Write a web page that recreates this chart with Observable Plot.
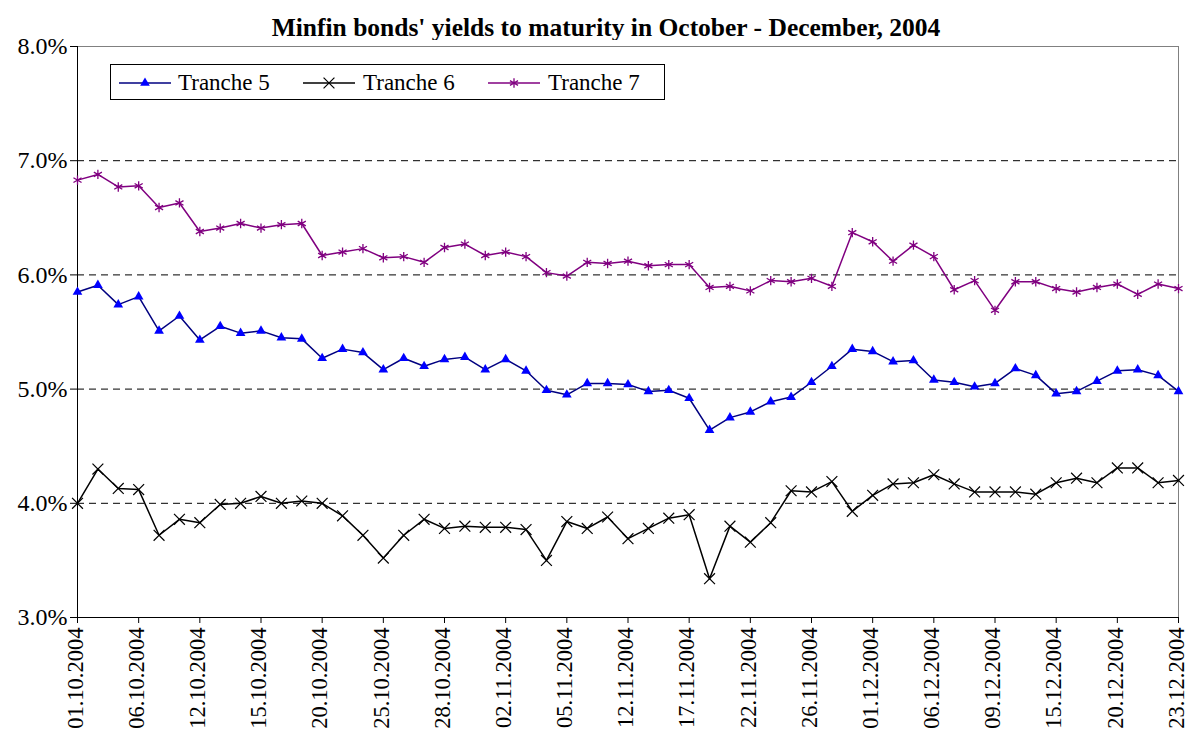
<!DOCTYPE html>
<html>
<head>
<meta charset="utf-8">
<script src="https://cdn.jsdelivr.net/npm/d3@7"></script>
<script src="https://cdn.jsdelivr.net/npm/@observablehq/plot@0.6"></script>
<style>
  body { margin: 0; background: #fff; }
  #wrap { position: relative; width: 1188px; height: 736px; font-family: "Liberation Serif", "Times New Roman", serif; color: #000; }
  #title { position: absolute; left: 24px; top: 13px; width: 1164px; text-align: center; font-weight: bold; font-size: 25.5px; }
  #chart { position: absolute; left: 0; top: 40px; }
  #legend { position: absolute; left: 110px; top: 64px; width: 555px; height: 36px; border: 1px solid #000; background: #fff; box-sizing: border-box; }
</style>
</head>
<body>
<div id="wrap">
  <div id="title">Minfin bonds' yields to maturity in October - December, 2004</div>
  <div id="chart"></div>
  <div id="legend"></div>
</div>
<script>
// Trading dates (category axis), labelled every third day
const dates = [
  "01.10.2004","04.10.2004","05.10.2004","06.10.2004","07.10.2004","11.10.2004","12.10.2004",
  "13.10.2004","14.10.2004","15.10.2004","18.10.2004","19.10.2004","20.10.2004","21.10.2004",
  "22.10.2004","25.10.2004","26.10.2004","27.10.2004","28.10.2004","29.10.2004","01.11.2004",
  "02.11.2004","03.11.2004","04.11.2004","05.11.2004","10.11.2004","11.11.2004","12.11.2004",
  "15.11.2004","16.11.2004","17.11.2004","18.11.2004","19.11.2004","22.11.2004","24.11.2004",
  "25.11.2004","26.11.2004","29.11.2004","30.11.2004","01.12.2004","02.12.2004","03.12.2004",
  "06.12.2004","07.12.2004","08.12.2004","09.12.2004","13.12.2004","14.12.2004","15.12.2004",
  "16.12.2004","17.12.2004","20.12.2004","21.12.2004","22.12.2004","23.12.2004"
];

// Yields to maturity, %
const tranche5 = [
  5.85,5.91,5.74,5.81,5.51,5.64,5.43,5.55,5.49,5.51,
  5.45,5.44,5.27,5.35,5.32,5.17,5.27,5.20,5.26,5.28,
  5.17,5.26,5.16,4.99,4.95,5.05,5.05,5.04,4.98,4.99,
  4.92,4.64,4.75,4.80,4.89,4.93,5.06,5.20,5.35,5.33,
  5.24,5.25,5.08,5.06,5.02,5.05,5.18,5.12,4.96,4.98,
  5.07,5.16,5.17,5.12,4.98
];
const tranche6 = [
  4.00,4.30,4.13,4.12,3.72,3.86,3.83,3.99,4.00,4.06,
  4.00,4.02,4.00,3.89,3.72,3.52,3.72,3.86,3.78,3.80,
  3.79,3.79,3.77,3.50,3.84,3.78,3.88,3.69,3.78,3.87,
  3.90,3.34,3.80,3.66,3.83,4.11,4.10,4.19,3.93,4.07,
  4.17,4.18,4.25,4.17,4.10,4.10,4.10,4.08,4.18,4.22,
  4.18,4.31,4.31,4.18,4.20
];
const tranche7 = [
  6.83,6.88,6.77,6.78,6.59,6.63,6.38,6.41,6.45,6.41,
  6.44,6.45,6.17,6.20,6.23,6.15,6.16,6.11,6.24,6.27,
  6.17,6.20,6.16,6.02,5.99,6.11,6.10,6.12,6.08,6.09,
  6.09,5.89,5.90,5.86,5.95,5.94,5.97,5.90,6.37,6.29,
  6.12,6.26,6.16,5.87,5.95,5.69,5.94,5.94,5.88,5.85,
  5.89,5.92,5.83,5.92,5.88
];

const seriesNames = ["Tranche 5", "Tranche 6", "Tranche 7"];
const yTicks = [3, 4, 5, 6, 7, 8];
const gridValues = [4, 5, 6, 7];

// positions along the category axis are day indices; every third one is labelled
const dayIndex = dates.map((d, i) => i);
const labelIdx = dayIndex.filter(i => i % 3 === 0);
const lastIdx = dates.length - 1;

const styles = {
  "Tranche 5": {line: "#000080", fill: "#0000ff", stroke: "none", symbol: "triangle", r: 3.6, sw: 0},
  "Tranche 6": {line: "#000000", fill: "none", stroke: "#000000", symbol: "times", r: 5, sw: 1.2},
  "Tranche 7": {line: "#800080", fill: "none", stroke: "#800080", symbol: "asterisk", r: 4.4, sw: 1.3}
};

const table = (vals) => dates.map((d, i) => ({i, date: d, y: vals[i]}));
const data = {
  "Tranche 5": table(tranche5),
  "Tranche 6": table(tranche6),
  "Tranche 7": table(tranche7)
};

const seriesMarks = seriesNames.flatMap(name => {
  const s = styles[name];
  return [
    Plot.line(data[name], {x: "i", y: "y", stroke: s.line, strokeWidth: 1.5}),
    Plot.dot(data[name], {x: "i", y: "y", symbol: () => s.symbol, r: s.r,
      fill: s.fill, stroke: s.stroke, strokeWidth: s.sw})
  ];
});

const font = '"Liberation Serif", "Times New Roman", serif';

const chart = Plot.plot({
  width: 1188,
  height: 696,
  marginTop: 6,
  marginBottom: 119,
  marginLeft: 77,
  marginRight: 10,
  style: {fontFamily: font, fontSize: "23px", color: "#000", background: "#fff", overflow: "visible"},
  x: {domain: [0, lastIdx]},
  y: {domain: [3, 8]},
  marks: [
    Plot.ruleY(gridValues, {stroke: "#000", strokeWidth: 1, strokeDasharray: "7,5"}),
    Plot.ruleY([8], {stroke: "#808080"}),
    Plot.ruleX([lastIdx], {stroke: "#808080"}),
    Plot.axisY({ticks: yTicks, tickFormat: d => d.toFixed(1) + "%", tickSize: 7, tickPadding: 3, label: null, stroke: "#000", fontSize: 24}),
    // tick marks on the date axis (no text)
    Plot.axisX({ticks: labelIdx, tickSize: 6, tickFormat: () => "", label: null, stroke: "#000"}),
    // rotated date labels, nudged slightly left so the last one stays inside the frame
    Plot.axisX({ticks: labelIdx, tickFormat: i => dates[i], tickRotate: -90, tickSize: 0, tickPadding: 10, dx: -2, label: null, fontSize: 22.5}),
    Plot.ruleX([0], {stroke: "#000"}),
    Plot.ruleY([3], {stroke: "#000"}),
    ...seriesMarks
  ]
});
document.getElementById("chart").appendChild(chart);

// Legend: sample line with marker and series name
const legendPos = [{x0: 8, tx: 67}, {x0: 192, tx: 252}, {x0: 377, tx: 437}];
const lsvg = d3.select("#legend").append("svg").attr("width", 553).attr("height", 34);
const symbolOf = {triangle: d3.symbolTriangle, times: d3.symbolTimes, asterisk: d3.symbolAsterisk};
seriesNames.forEach((name, i) => {
  const s = styles[name], p = legendPos[i], cy = 18;
  lsvg.append("line").attr("x1", p.x0).attr("x2", p.x0 + 52).attr("y1", cy).attr("y2", cy)
    .attr("stroke", s.line).attr("stroke-width", 1.5);
  lsvg.append("path")
    .attr("transform", `translate(${p.x0 + 26},${cy})`)
    .attr("d", d3.symbol(symbolOf[s.symbol], Math.PI * s.r * s.r)())
    .attr("fill", s.fill).attr("stroke", s.stroke).attr("stroke-width", s.sw);
  lsvg.append("text").attr("x", p.tx).attr("y", cy + 7)
    .attr("font-family", font).attr("font-size", 23)
    .text(name);
});
</script>
</body>
</html>
